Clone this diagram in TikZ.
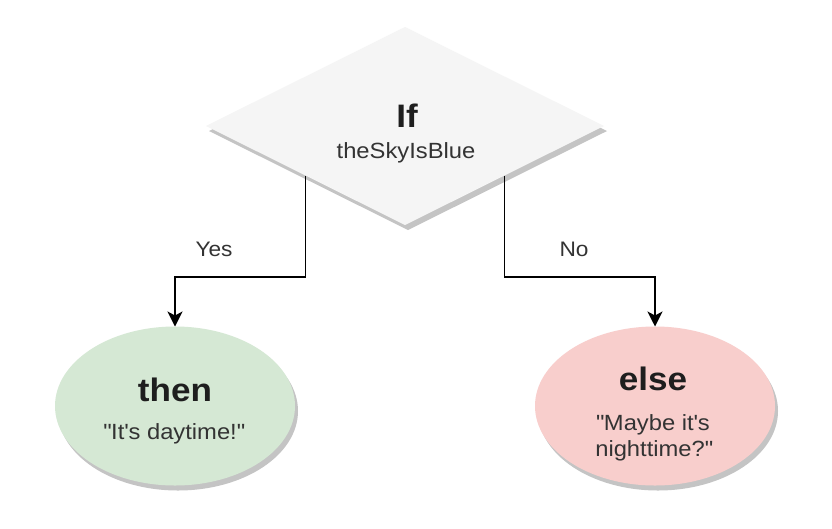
\documentclass[tikz,border=0pt]{standalone}
\usepackage{fontspec}
\setmainfont{Liberation Sans}[FakeStretch=1.08]
\usetikzlibrary{shapes.geometric,arrows.meta,shadows}
\definecolor{dfill}{HTML}{F5F5F5}
\definecolor{gfill}{HTML}{D5E8D4}
\definecolor{rfill}{HTML}{F8CECC}
\definecolor{shad}{HTML}{C4C4C4}
\definecolor{txt}{HTML}{333333}
\definecolor{ttl}{HTML}{1E1E1E}
\newcommand\dq{\XeTeXglyph\XeTeXcharglyph"22\relax}
\newcommand\sq{\XeTeXglyph\XeTeXcharglyph"27\relax}
\begin{document}
\begin{tikzpicture}[x=1pt,y=-1pt,
  shp/.style={draw=none, inner sep=0pt, outer sep=0pt,
    drop shadow={shadow xshift=3pt, shadow yshift=-5pt, fill=shad, opacity=1}},
  ttltext/.style={anchor=base, inner sep=0pt, text=ttl, font=\fontsize{32.5}{38}\selectfont\bfseries},
  subtext/.style={anchor=base, inner sep=0pt, text=txt, font=\fontsize{22}{27}\selectfont},
  lbltext/.style={anchor=base, inner sep=0pt, text=txt, font=\fontsize{21}{25}\selectfont},
  arr/.style={draw=black, line width=1.5pt, -{Stealth[length=15pt,width=15pt,inset=4pt]}}
]
\useasboundingbox (0,0) rectangle (832,528);
\fill[white] (0,0) rectangle (832,528);

% shapes
\node[shp, diamond, fill=dfill, minimum width=398pt, minimum height=198pt] (d) at (405,126) {};
\node[shp, ellipse, fill=gfill, minimum width=240pt, minimum height=159pt] (then) at (175,406) {};
\node[shp, ellipse, fill=rfill, minimum width=240pt, minimum height=159pt] (else) at (655,406) {};

% texts
\node[ttltext] (tIf) at (407,127) {If};
\node[subtext] (tSky) at (406,158) {theSkyIsBlue};
\node[ttltext] (tThen) at (175,401.5) {then};
\node[subtext] (tDay) at (174,439) {\dq It\sq s daytime!\dq};
\node[ttltext] (tElse) at (653,390.5) {else};
\node[subtext] (tMaybe) at (653,430) {\dq Maybe it\sq s};
\node[subtext] (tNight) at (654,456.5) {nighttime?\dq};

% connectors
\coordinate (ybend) at (175,277);
\coordinate (nbend) at (655,277);
\draw[arr] (d.south west) |- (ybend) -- (then.north);
\draw[arr] (d.south east) |- (nbend) -- (else.north);

\node[lbltext] (lYes) at (214,256) {Yes};
\node[lbltext] (lNo) at (574,256) {No};
\end{tikzpicture}
\end{document}
